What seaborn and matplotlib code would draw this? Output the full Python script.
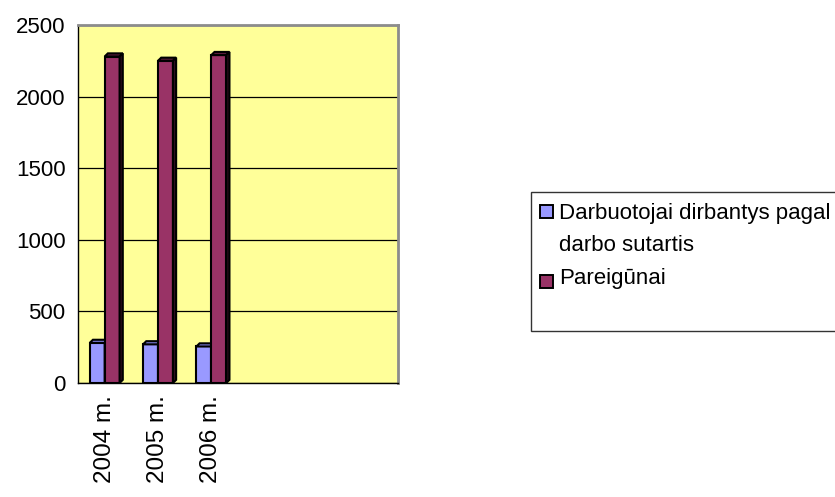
import matplotlib
matplotlib.use("Agg")
import matplotlib.pyplot as plt
from matplotlib.patches import Polygon, Rectangle
import pandas as pd
import seaborn as sns

# Data
years = ["2004 m.", "2005 m.", "2006 m."]
series = ["Darbuotojai dirbantys pagal darbo sutartis", "Pareigūnai"]
legend_lines = [["Darbuotojai dirbantys pagal", "darbo sutartis"], ["Pareigūnai"]]
darbuotojai = [280, 270, 255]
pareigunai = [2280, 2250, 2290]
y_ticks = [0, 500, 1000, 1500, 2000, 2500]
colors = ["#9999FF", "#993366"]
side_colors = ["#5c5ca8", "#2e0d1e"]
top_colors = ["#7f7fe0", "#5a1b3b"]

df = pd.DataFrame({
    "Metai": years * 2,
    "Serija": [series[0]] * len(years) + [series[1]] * len(years),
    "Skaičius": darbuotojai + pareigunai,
})

sns.set_theme(style="white")
plt.rcParams["font.family"] = ["Liberation Sans", "DejaVu Sans"]

W, H = 835, 497
fig = plt.figure(figsize=(W / 100, H / 100), dpi=100)
ax = fig.add_axes([78 / W, 1 - 383 / H, 320 / W, 358 / H])

sns.barplot(data=df, x="Metai", y="Skaičius", hue="Serija", hue_order=series,
            palette=colors, width=0.56, edgecolor="black", linewidth=1.5,
            saturation=1, legend=False, ax=ax, zorder=3)

ax.set_xlim(-0.5, 5.5)
ax.set_ylim(0, 2500)
ax.set_facecolor("#FFFF99")

# pseudo-3D depth faces for each bar
dx, dy = 0.06, 22
bars = [p for p in ax.patches if isinstance(p, Rectangle)]
n = len(years)
for i, p in enumerate(bars):
    s = i // n
    x0, w, h = p.get_x(), p.get_width(), p.get_height()
    z = 3 + s
    p.set_zorder(z)
    top = Polygon([(x0, h), (x0 + dx, h + dy), (x0 + w + dx, h + dy), (x0 + w, h)],
                  closed=True, facecolor=top_colors[s], edgecolor="black", lw=1.5, zorder=z)
    side = Polygon([(x0 + w, 0), (x0 + w + dx, dy), (x0 + w + dx, h + dy), (x0 + w, h)],
                   closed=True, facecolor=side_colors[s], edgecolor="black", lw=1.5, zorder=z)
    ax.add_patch(top)
    ax.add_patch(side)

# gridlines
ax.set_yticks(y_ticks)
ax.yaxis.grid(True, color="black", lw=0.9)
ax.set_axisbelow(True)

ax.set_xlabel("")
ax.set_ylabel("")
ax.set_xticks(range(n))
ax.set_xticklabels(years, rotation=90, fontsize=17.5)
ax.set_xticks([x - 0.5 for x in range(7)], minor=True)
ax.tick_params(axis="x", which="major", length=0, pad=9)
ax.tick_params(axis="x", which="minor", length=8, width=1, color="black", direction="out")
ax.tick_params(axis="y", length=7, width=1, color="black", direction="out",
               labelsize=16, pad=2, labelcolor="black")
ax.tick_params(axis="x", labelcolor="black")
for lbl in ax.get_xticklabels():
    lbl.set_verticalalignment("top")

for side_name in ["left", "bottom"]:
    ax.spines[side_name].set_color("black")
    ax.spines[side_name].set_linewidth(1.0)
for side_name in ["top", "right"]:
    ax.spines[side_name].set_color("#8c8c8c")
    ax.spines[side_name].set_linewidth(2.0)

# legend box
fig.patches.append(Rectangle((531 / W, 1 - 331 / H), 320 / W, 139 / H,
                             transform=fig.transFigure, facecolor="white",
                             edgecolor="#333333", lw=1.0))
marker_top = [205, 275]
baselines = [[219, 251], [284]]
for lines, col, mt, bl in zip(legend_lines, colors, marker_top, baselines):
    fig.patches.append(Rectangle((540 / W, 1 - (mt + 13) / H), 13 / W, 13 / H,
                                 transform=fig.transFigure, facecolor=col,
                                 edgecolor="black", lw=1.4))
    for line, yb in zip(lines, bl):
        fig.text(559 / W, 1 - yb / H, line, fontsize=16, va="baseline", ha="left",
                 color="black")

fig.savefig("out.png", dpi=100)
